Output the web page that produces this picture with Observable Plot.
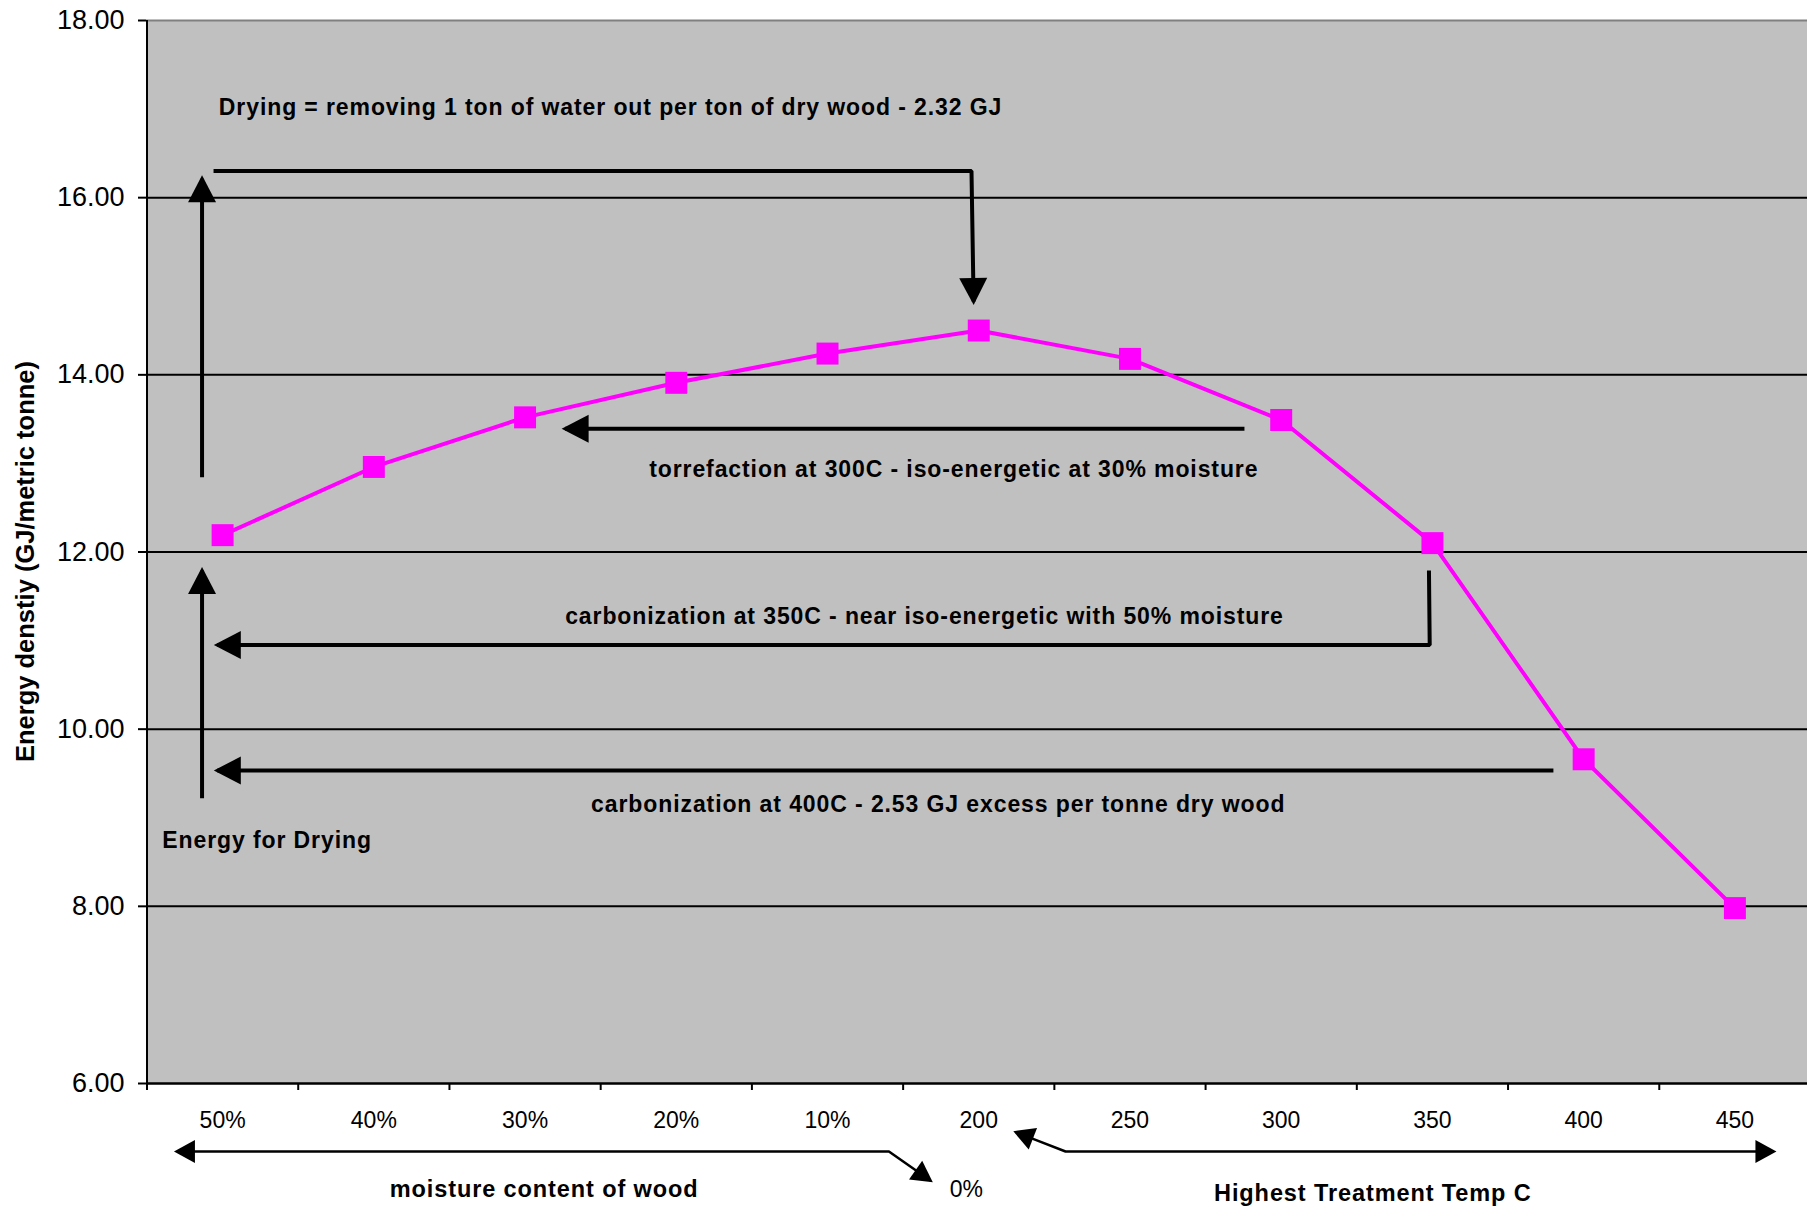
<!DOCTYPE html>
<html><head><meta charset="utf-8">
<script src="https://cdn.jsdelivr.net/npm/d3@7"></script>
<script src="https://cdn.jsdelivr.net/npm/@observablehq/plot@0.6"></script>
<style>
html,body{margin:0;padding:0;background:#fff;}
svg g[font-weight="bold"] text{letter-spacing:0.9px;}
svg [aria-label="x-axis tick"], svg [aria-label="y-axis tick"]{stroke-width:2px;}
svg .tick line{stroke-width:2px;}
</style></head><body>
<script>
// ---- data ----
const categories = ["50%","40%","30%","20%","10%","200","250","300","350","400","450"];
const energy = [12.19, 12.96, 13.52, 13.91, 14.24, 14.50, 14.18, 13.49, 12.10, 9.66, 7.98];
const yTicks = [6, 8, 10, 12, 14, 16, 18];
const gridValues = [8, 10, 12, 14, 16];
const yLabel = "Energy denstiy (GJ/metric tonne)";

// annotation texts inside the plot (x in category-index units, y in GJ/t)
const notes = [
  {text: "Drying = removing 1 ton of water out per ton of dry wood - 2.32 GJ", x: 2.565, y: 17.011},
  {text: "torrefaction at 300C - iso-energetic at 30% moisture", x: 4.835, y: 12.925},
  {text: "carbonization at 350C - near iso-energetic with 50% moisture", x: 4.641, y: 11.273},
  {text: "carbonization at 400C - 2.53 GJ excess per tonne dry wood", x: 4.732, y: 9.146},
  {text: "Energy for Drying", x: 0.294, y: 8.743}
];
// labels under the axis
const axisNotes = [
  {text: "moisture content of wood", x: 2.126, y: 4.80},
  {text: "Highest Treatment Temp C", x: 7.606, y: 4.763}
];
const zeroNote = [{text: "0%", x: 4.918, y: 4.80}];

// arrow paths
const arrowPaths = [
  {id: "dryUp",   kind: "plot", heads: ["end"], pts: [[-0.136, 12.845], [-0.136, 16.213]]},
  {id: "dryUp2",  kind: "plot", heads: ["end"], pts: [[-0.136, 9.221], [-0.136, 11.791]]},
  {id: "bracket", kind: "plot", heads: ["end"], pts: [[-0.060, 16.301], [4.952, 16.301], [4.966, 14.828]]},
  {id: "torr",    kind: "plot", heads: ["end"], pts: [[6.757, 13.390], [2.265, 13.390]]},
  {id: "carb350", kind: "plot", heads: ["end"], pts: [[7.977, 11.790], [7.982, 10.950], [-0.035, 10.950]]},
  {id: "carb400", kind: "plot", heads: ["end"], pts: [[8.800, 9.533], [-0.035, 9.533]]},
  {id: "moist",   kind: "axis", heads: ["start", "end"], pts: [[-0.302, 5.232], [4.406, 5.232], [4.680, 4.905]]},
  {id: "temp",    kind: "axis", heads: ["start", "end"], pts: [[5.247, 5.449], [5.574, 5.232], [10.255, 5.232]]}
];

// ---- layout ----
const W = 1807, H = 1210, ML = 146, MR = 0, MT = 20, MB = 127;
const xDomain = [-0.5, categories.length - 0.5];
const xRange = [146.5, 1810];
const yDomain = [6, 18];
const FONT = '"Liberation Sans", Arial, Helvetica, sans-serif';

const px = d3.scaleLinear(xDomain, xRange);
const py = d3.scaleLinear(yDomain, [H - MB, MT]);

const series = energy.map((v, i) => ({i, v, cat: categories[i]}));
const xBounds = categories.map((d, i) => i - 0.5);

const headDims = {plot: {L: 27, Wd: 28, k: 3.5}, axis: {L: 21, Wd: 23, k: 3}};
function headSymbol(angleDeg, L, Wd, k) {
  const a = angleDeg * Math.PI / 180, ux = Math.cos(a), uy = Math.sin(a), qx = -uy, qy = ux;
  return {draw(ctx) {
    const bx = -ux * (L - k), by = -uy * (L - k);
    ctx.moveTo(ux * k, uy * k);
    ctx.lineTo(bx + qx * Wd / 2, by + qy * Wd / 2);
    ctx.lineTo(bx - qx * Wd / 2, by - qy * Wd / 2);
    ctx.closePath();
  }};
}
const heads = arrowPaths.flatMap(p => p.heads.map(h => {
  const [a, b] = h === "end" ? p.pts.slice(-2) : [p.pts[1], p.pts[0]];
  const ang = Math.atan2(py(b[1]) - py(a[1]), px(b[0]) - px(a[0])) * 180 / Math.PI;
  return {x: b[0], y: b[1], angle: ang, kind: p.kind};
}));
const arrowRows = arrowPaths.flatMap(p => p.pts.map(([x, y]) => ({id: p.id, kind: p.kind, x, y})));

const chart = Plot.plot({
  width: W, height: H,
  marginLeft: ML, marginRight: MR, marginTop: MT, marginBottom: MB,
  style: {fontFamily: FONT, fontSize: "27px", background: "white", color: "black", overflow: "visible"},
  x: {type: "linear", domain: xDomain, range: xRange, ticks: xBounds, tickFormat: () => "", tickSize: 7, label: null},
  y: {domain: yDomain, ticks: yTicks, tickFormat: d => d.toFixed(2), tickSize: 8, tickPadding: 14, label: null},
  marks: [
    Plot.frame({fill: "#C0C0C0", stroke: "none"}),
    Plot.ruleY(gridValues, {stroke: "black", strokeWidth: 2}),
    Plot.ruleY([yDomain[1]], {stroke: "#808080", strokeWidth: 2}),
    Plot.ruleX([xDomain[0]], {stroke: "black", strokeWidth: 2}),
    Plot.ruleY([yDomain[0]], {stroke: "black", strokeWidth: 2.5}),
    Plot.line(series, {x: "i", y: "v", stroke: "#FF00FF", strokeWidth: 4}),
    Plot.dot(series, {x: "i", y: "v", symbol: "square", r: 12.4, fill: "#FF00FF", stroke: "none"}),
    Plot.line(arrowRows.filter(d => d.kind === "plot"), {x: "x", y: "y", z: "id", stroke: "black", strokeWidth: 4, strokeLinecap: "butt", strokeLinejoin: "miter"}),
    Plot.line(arrowRows.filter(d => d.kind === "axis"), {x: "x", y: "y", z: "id", stroke: "black", strokeWidth: 2.5, strokeLinecap: "butt", strokeLinejoin: "miter"}),
    ...heads.map(h => Plot.dot([h], {x: "x", y: "y", r: 10, fill: "black", stroke: "none",
      symbol: headSymbol(h.angle, headDims[h.kind].L, headDims[h.kind].Wd, headDims[h.kind].k)})),
    Plot.text(notes, {x: "x", y: "y", text: "text", fontSize: 23, fontWeight: "bold", fill: "black", textAnchor: "middle"}),
    Plot.text(axisNotes, {x: "x", y: "y", text: "text", fontSize: 23.5, fontWeight: "bold", fill: "black", textAnchor: "middle"}),
    Plot.text(zeroNote, {x: "x", y: "y", text: "text", fontSize: 23, fill: "black", textAnchor: "middle"}),
    Plot.text(categories, {x: (d, i) => i, text: d => d, frameAnchor: "bottom", dy: 44, fontSize: 23, fill: "black", textAnchor: "middle"}),
    Plot.text([yLabel], {text: d => d, frameAnchor: "left", textAnchor: "middle", dx: -121, dy: 9.5, rotate: -90, fontSize: 25.5, fontWeight: "700", fill: "black"})
  ]
});
document.body.appendChild(chart);
</script></body></html>
